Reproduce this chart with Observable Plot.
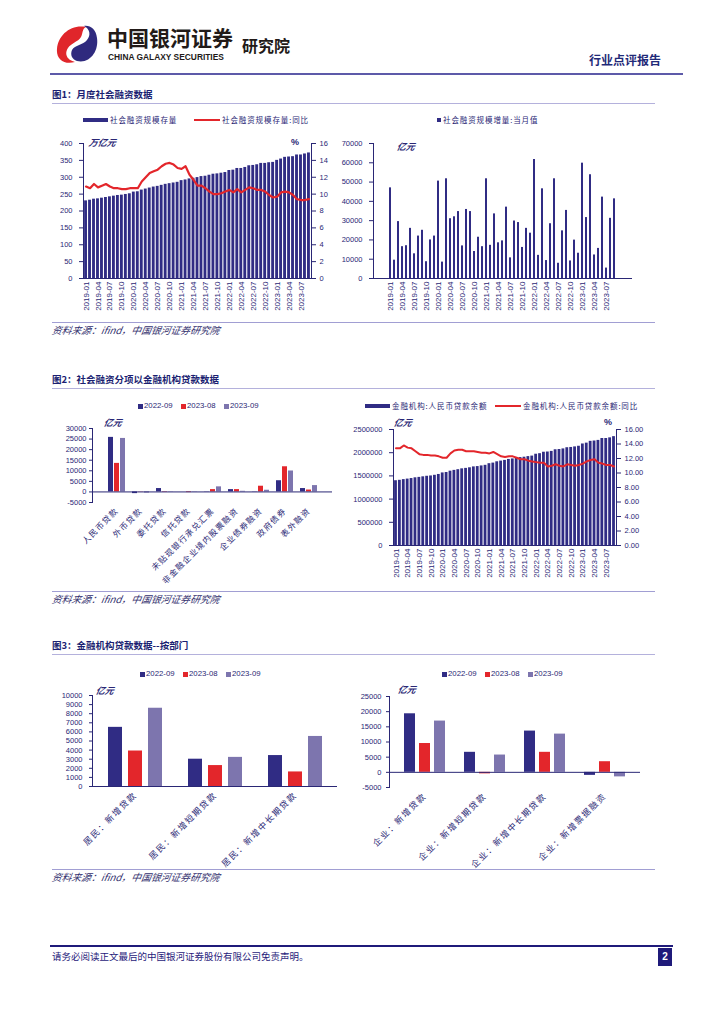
<!DOCTYPE html>
<html><head><meta charset="utf-8">
<script src="https://cdn.jsdelivr.net/npm/d3@7"></script>
<script src="https://cdn.jsdelivr.net/npm/@observablehq/plot@0.6"></script>
<style>
body{margin:0;background:#fff;}
#page{position:relative;width:724px;height:1024px;overflow:hidden;font-family:"Liberation Sans","Noto Sans CJK SC",sans-serif;}
.abs{position:absolute;white-space:nowrap;line-height:1;}
.layer{position:absolute;left:0;top:0;}
</style></head><body><div id="page"></div>
<script>
// ---------------- DATA ----------------
const months = [];
for (let y = 2019; y <= 2023; y++) for (let m = 1; m <= 12; m++) { if (y === 2023 && m > 9) break; months.push(`${y}-${String(m).padStart(2, "0")}`); }
const tickMonths = months.filter((d, i) => i % 3 === 0);

// 社会融资规模存量 (万亿元)
const tsfStock = [230,232,235,236,238,240,242,244,246,247,249,251,
  256,257,262,265,268,271,273,276,279,281,283,285,
  290,292,295,297,299,302,303,306,309,310,312,314,
  320,321,326,326,329,334,335,337,341,341,343,344,
  350,354,359,360,361,366,366,369,372];
// 社会融资规模存量:同比 (%)
const tsfYoY = [10.9,10.7,11.2,10.8,11.0,11.2,10.9,10.7,10.7,10.6,10.6,10.7,
  10.7,10.7,11.5,12.0,12.5,12.7,12.9,13.3,13.6,13.7,13.5,13.1,
  13.0,13.3,12.3,11.7,11.0,11.0,10.7,10.3,10.0,10.0,10.1,10.3,
  10.5,10.2,10.6,10.2,10.5,10.8,10.7,10.5,10.5,10.3,9.9,9.6,
  9.7,10.2,10.3,10.2,9.9,9.4,9.3,9.3,9.4];
// 社会融资规模增量:当月值 (亿元)
const tsfFlow = [47000,9500,29500,16500,17000,26000,12800,22000,25000,8700,20000,22000,
  50500,8500,51700,31000,32000,34700,16900,35800,34700,14000,21400,16500,
  51700,17200,33500,18500,19500,37000,10700,29800,29000,16100,26000,23500,
  61700,12000,46500,9300,28400,51700,7900,24700,35300,9100,19900,13100,
  59800,31600,53800,12200,15600,42200,5400,31200,41300];
// 金融机构:人民币贷款余额 (亿元)
const loanBal = [1396000,1405000,1420000,1431000,1443000,1459000,1468000,1480000,1492000,1499000,1513000,1531000,
  1564000,1573000,1602000,1619000,1634000,1652000,1662000,1675000,1694000,1701000,1715000,1728000,
  1763000,1776000,1804000,1819000,1834000,1855000,1866000,1878000,1895000,1903000,1916000,1927000,
  1967000,1979000,2010000,2015000,2028000,2063000,2069000,2082000,2107000,2113000,2125000,2139000,
  2188000,2206000,2245000,2252000,2265000,2306000,2306000,2320000,2346000];
// 金融机构:人民币贷款余额:同比 (%)
const loanYoY = [13.4,13.4,13.8,13.5,13.4,13.0,12.6,12.5,12.5,12.4,12.4,12.3,
  12.1,12.1,12.7,13.1,13.2,13.2,13.0,13.0,13.0,12.9,12.8,12.8,
  12.7,12.9,12.6,12.3,12.2,12.3,12.3,12.1,11.9,11.9,11.7,11.6,
  11.5,11.4,11.4,10.9,11.0,11.2,11.0,10.9,11.2,11.1,11.0,11.1,
  11.3,11.6,11.8,11.9,11.4,11.3,11.1,11.1,10.9];

const seriesNames = ["2022-09", "2023-08", "2023-09"];
// 图2 社会融资分项 (亿元)
const cats2 = ["人民币贷款","外币贷款","委托贷款","信托贷款","未贴现银行承兑汇票","非金融企业境内股票融资","企业债券融资","政府债券","表外融资"];
const f2_2209 = [25800,-800,1600,0,-100,1100,100,5300,1600];
const f2_2308 = [13500,-100,-200,-300,1100,1100,2700,11900,900];
const f2_2309 = [25300,-500,100,100,2400,300,800,9900,3000];
// 图3 居民 (亿元)
const cats3a = ["居民：新增贷款","居民：新增短期贷款","居民：新增中长期贷款"];
const h_2209 = [6500,3000,3400];
const h_2308 = [3900,2300,1600];
const h_2309 = [8600,3200,5500];
// 图3 企业 (亿元)
const cats3b = ["企业：新增贷款","企业：新增短期贷款","企业：新增中长期贷款","企业：新增票据融资"];
const c_2209 = [19300,6600,13600,-1000];
const c_2308 = [9500,-500,6600,3500];
const c_2309 = [16900,5700,12600,-1500];

// ---------------- STYLE ----------------
const NAVY = "#302c84", RED = "#e3262b", LIGHT = "#7d75ae", AXIS = "#2a2775";
const FONT = "'Liberation Sans','Noto Sans CJK SC',sans-serif";
const page = document.getElementById("page");

function div(x, y, css, html) {
  const d = document.createElement("div");
  d.className = "abs";
  d.style.left = x + "px"; d.style.top = y + "px";
  d.style.cssText += css || "";
  if (html != null) d.innerHTML = html;
  page.appendChild(d);
  return d;
}
function box(x, y, w, h, color) { return div(x, y, `width:${w}px;height:${h}px;background:${color};`); }
function holder(x, y, w, h) { return div(x, y, `width:${w}px;height:${h}px;`); }
function cjkSpacing(svg, ls, fs) {
  d3.select(svg).selectAll("text").filter(function(){ return /[\u4e00-\u9fff]/.test(this.textContent); })
    .style("letter-spacing", ls + "px").style("font-size", fs).style("font-family", "'Noto Sans CJK SC',sans-serif");
}
const plotStyle = {fontFamily: FONT, fontSize: "7.5px", color: AXIS, background: "transparent", overflow: "visible"};

// ---------------- HEADER ----------------
div(55, 24, "", `<svg width="44" height="40" viewBox="0 0 44 40">
<path d="M31,3 C16,0 3,11 2,25 C1,35 9,41 20,38 C12,36 9,30 13,24 C16,19 23,18 26,13 C28,9 27,5 31,3 Z" fill="#e0262b"/>
<path d="M22,37 C35,40 44,27 42,14 C41,5 35,1 29,2 C35,5 36,11 32,16 C28,21 20,21 17,26 C15,31 17,35 22,37 Z" fill="#2f2a7e"/>
</svg>`);
div(107, 27, "font-size:21px;font-weight:bold;color:#221a18;font-family:'Noto Sans CJK SC';", "中国银河证券");
div(108, 53, "font-size:8.4px;font-weight:bold;color:#221a18;font-family:'Liberation Sans';", "CHINA GALAXY SECURITIES");
div(242, 37, "font-size:16px;font-weight:bold;color:#221a18;font-family:'Noto Sans CJK SC';", "研究院");
div(589, 54, "font-size:12px;font-weight:bold;color:#1f2a78;font-family:'Noto Sans CJK SC';", "行业点评报告");
box(50, 73, 633, 2, "#5d5aa9");

function section(y, title) {
  div(52, y - 6, "font-size:9.5px;font-weight:bold;color:#1b1f72;font-family:'Noto Sans CJK SC';", title);
  box(52, y + 7, 603, 1, "#b4b1dc");
}
function source(y) {
  box(52, y - 9, 603, 1, "#a19ed3");
  div(52, y - 5, "font-size:9.8px;font-style:italic;color:#33306e;font-family:'Noto Sans CJK SC';transform:skewX(-10deg);transform-origin:left;", "资料来源：ifind，中国银河证券研究院");
}
section(96, "图1：月度社会融资数据");
source(331);
section(381, "图2：社会融资分项以金融机构贷款数据");
source(600);
section(647, "图3：金融机构贷款数据--按部门");
source(878);

// footer
box(50, 945, 623, 1.5, "#1f1a7a");
div(52, 952, "font-size:9.5px;color:#1f1a7a;font-family:'Noto Sans CJK SC';", "请务必阅读正文最后的中国银河证券股份有限公司免责声明。");
div(658, 948, "width:14px;height:18px;background:#1f1a7a;color:#fff;font-size:10px;font-weight:bold;text-align:center;line-height:18px;", "2");

function unitLabel(x, y, t) { div(x, y, "font-size:9px;font-weight:bold;font-style:italic;color:#2a2775;font-family:'Noto Sans CJK SC';transform:skewX(-12deg);", t); }
function legendText(x, y, t) { div(x, y - 4, "font-size:7.5px;color:#2a2775;letter-spacing:0.9px;font-family:'Noto Sans CJK SC';", t); }
function groupLegend(xs, y) {
  const cols = [NAVY, RED, LIGHT];
  xs.forEach((x, i) => { box(x, y - 2.5, 5, 5, cols[i]); div(x + 6, y - 4, "font-size:7.8px;color:#2a2775;font-family:'Liberation Sans';", seriesNames[i]); });
}

// ---------------- DUAL-AXIS CHART ----------------
function dualChart({x, y, w, h, m, bars, line, barPad, yL, yR, lineWidth}) {
  const hd = holder(x, y, w, h);
  const rows = months.map((d, i) => ({m: d, bar: bars[i], line: line ? line[i] : null}));
  const p1 = Plot.plot({
    width: w, height: h, marginTop: m[0], marginRight: m[1], marginBottom: m[2], marginLeft: m[3],
    style: plotStyle,
    x: {type: "band", domain: months, padding: barPad, ticks: tickMonths, tickRotate: -90, tickSize: 0, tickPadding: 3, label: null},
    y: {domain: yL.domain, ticks: yL.ticks, tickFormat: yL.format, tickSize: 4, tickPadding: yL.pad, label: null, line: true},
    marks: [
      Plot.barY(rows, {x: "m", y: "bar", fill: NAVY}),
      Plot.ruleY([0], {stroke: AXIS, strokeWidth: 1})
    ]
  });
  p1.classList.add("layer");
  d3.select(p1).selectAll("text").filter(function(){ return /^\d{4}-\d{2}$/.test(this.textContent); }).style("font-size", "8px");
  hd.appendChild(p1);
  if (line) {
    const p2 = Plot.plot({
      width: w, height: h, marginTop: m[0], marginRight: m[1], marginBottom: m[2], marginLeft: m[3],
      style: plotStyle,
      x: {type: "point", domain: months, padding: (1 + barPad) / 2, axis: null},
      y: {axis: "right", domain: yR.domain, ticks: yR.ticks, tickFormat: yR.format, tickSize: 4, tickPadding: yR.pad, label: null, line: true},
      marks: [Plot.lineY(rows, {x: "m", y: "line", stroke: RED, strokeWidth: lineWidth || 2.2, curve: "linear"})]
    });
    p2.classList.add("layer");
    hd.appendChild(p2);
  }
}

// ---------------- GROUPED BAR CHART ----------------
function groupedChart({x, y, w, h, m, cats, vals, p, yDomain, yTicks, pad, labelSize, ls, lpad}) {
  const hd = holder(x, y, w, h);
  const rows = [], domain = [];
  cats.forEach((c, i) => {
    if (i > 0) domain.push("sp" + i);
    seriesNames.forEach((s, j) => { const k = c + "|" + s; domain.push(k); rows.push({key: k, cat: c, series: s, value: vals[j][i]}); });
  });
  const mids = cats.map(c => c + "|" + seriesNames[1]);
  const svg = Plot.plot({
    width: w, height: h, marginTop: m[0], marginRight: m[1], marginBottom: m[2], marginLeft: m[3],
    style: plotStyle,
    x: {type: "band", domain, paddingInner: p, paddingOuter: (1 + p) / 2, ticks: mids, tickFormat: k => k.split("|")[0], tickRotate: -45, tickSize: 0, tickPadding: lpad, label: null},
    y: {domain: yDomain, ticks: yTicks, tickFormat: d => String(d), tickSize: 3, tickPadding: pad, label: null, line: true},
    color: {domain: seriesNames, range: [NAVY, RED, LIGHT]},
    marks: [
      Plot.barY(rows, {x: "key", y: "value", fill: "series"}),
      Plot.ruleY([0], {stroke: AXIS, strokeWidth: 1})
    ]
  });
  svg.classList.add("layer");
  cjkSpacing(svg, ls, labelSize);
  hd.appendChild(svg);
}

// 图1 左
legendText(110, 120, "社会融资规模存量");
box(83, 118, 25, 4, NAVY);
box(194, 119, 26, 2, RED);
legendText(222, 120, "社会融资规模存量:同比");
dualChart({x: 40, y: 110, w: 290, h: 225, m: [33, 19, 57, 43], bars: tsfStock, line: tsfYoY, barPad: 0.28,
  yL: {domain: [0, 400], ticks: d3.range(0, 401, 50), format: d => String(d), pad: 7},
  yR: {domain: [0, 16], ticks: d3.range(0, 17, 2), format: d => String(d), pad: 4}});
unitLabel(89, 138, "万亿元");
div(291, 138, "font-size:9px;font-weight:bold;color:#2a2775;", "%");

// 图1 右
box(437, 118, 4, 4, NAVY);
legendText(443, 120, "社会融资规模增量:当月值");
dualChart({x: 330, y: 110, w: 310, h: 225, m: [33, 8, 57, 43], bars: tsfFlow, line: null, barPad: 0.42,
  yL: {domain: [0, 70000], ticks: d3.range(0, 70001, 10000), format: d => String(d), pad: 7}});
unitLabel(397, 142, "亿元");

// 图2 左
groupLegend([138, 181, 224], 406);
groupedChart({x: 40, y: 415, w: 300, h: 175, m: [13, 8, 88, 52], cats: cats2, vals: [f2_2209, f2_2308, f2_2309], p: 0.25,
  yDomain: [-5000, 30000], yTicks: d3.range(-5000, 30001, 5000), pad: 3, labelSize: "8.2px", ls: 1.2, lpad: 7});
unitLabel(104, 418, "亿元");

// 图2 右
box(365, 404, 25, 4, NAVY);
legendText(392, 406, "金融机构:人民币贷款余额");
box(495, 405, 26, 2, RED);
legendText(523, 406, "金融机构:人民币贷款余额:同比");
dualChart({x: 340, y: 415, w: 330, h: 175, m: [14, 54, 45, 53], bars: loanBal, line: loanYoY, barPad: 0.28,
  yL: {domain: [0, 2500000], ticks: d3.range(0, 2500001, 500000), format: d => String(d), pad: 7},
  yR: {domain: [0, 16], ticks: d3.range(0, 17, 2), format: d => d.toFixed(2), pad: 4}, lineWidth: 2});
unitLabel(394, 418, "亿元");
div(604, 418, "font-size:9px;font-weight:bold;color:#2a2775;", "%");

// 图3 左
groupLegend([140, 183, 226], 674);
groupedChart({x: 40, y: 685, w: 305, h: 185, m: [10, 8, 84, 52], cats: cats3a, vals: [h_2209, h_2308, h_2309], p: 0.3,
  yDomain: [0, 10000], yTicks: d3.range(0, 10001, 1000), pad: 7, labelSize: "8.6px", ls: 1.6, lpad: 7});
unitLabel(96, 686, "亿元");

// 图3 右
groupLegend([442, 485, 528], 674);
groupedChart({x: 345, y: 685, w: 305, h: 185, m: [11, 10, 83, 44], cats: cats3b, vals: [c_2209, c_2308, c_2309], p: 0.25,
  yDomain: [-5000, 25000], yTicks: d3.range(-5000, 25001, 5000), pad: 5, labelSize: "8.6px", ls: 1.6, lpad: 7});
unitLabel(398, 685, "亿元");
</script></body></html>
